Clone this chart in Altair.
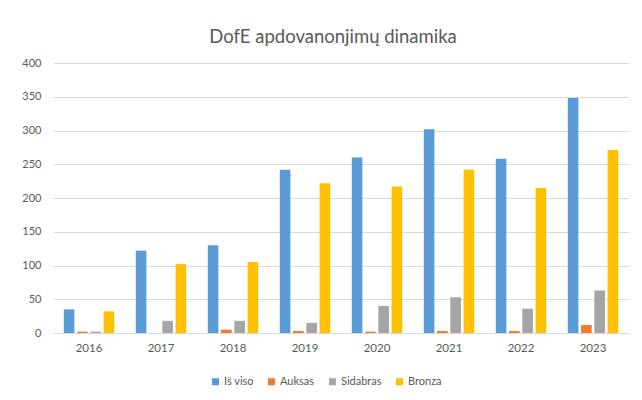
import altair as alt
import pandas as pd

years = ["2016", "2017", "2018", "2019", "2020", "2021", "2022", "2023"]
series = ["Iš viso", "Auksas", "Sidabras", "Bronza"]
colors = ["#5B9BD5", "#ED7D31", "#A5A5A5", "#FFC000"]
is_viso = [35, 122, 130, 242, 260, 302, 258, 348]
auksas = [2, 0, 5, 3, 2, 3, 3, 12]
sidabras = [2, 18, 18, 15, 40, 53, 36, 63]
bronza = [32, 102, 105, 222, 217, 242, 215, 271]

values = [is_viso, auksas, sidabras, bronza]
rows = []
for s, vals in zip(series, values):
    for y, v in zip(years, vals):
        rows.append({"Metai": y, "Serija": s, "Reikšmė": v})
df = pd.DataFrame(rows)

FONT = "Lato"
GREY = "#595959"

chart = alt.Chart(df).mark_bar().encode(
    x=alt.X("Metai:N", sort=years, title=None,
            scale=alt.Scale(paddingInner=0.3, paddingOuter=0.15),
            axis=alt.Axis(labelAngle=0, ticks=False, domain=False, labelPadding=9,
                          labelFontSize=11.5, labelColor=GREY, labelFont=FONT)),
    xOffset=alt.XOffset("Serija:N", sort=series,
                        scale=alt.Scale(domain=series, paddingInner=0.2)),
    y=alt.Y("Reikšmė:Q", title=None,
            scale=alt.Scale(domain=[0, 400], nice=False),
            axis=alt.Axis(values=[0, 50, 100, 150, 200, 250, 300, 350, 400],
                          ticks=False, domain=False, labelPadding=12,
                          labelFontSize=11, labelColor=GREY, labelFont=FONT,
                          gridColor="#D9D9D9", gridWidth=1)),
    color=alt.Color("Serija:N", sort=series,
                    scale=alt.Scale(domain=series, range=colors),
                    legend=alt.Legend(title=None, orient="none", direction="horizontal",
                                      legendX=157, legendY=313,
                                      symbolType="square", symbolSize=50,
                                      symbolStrokeWidth=0, labelFontSize=11,
                                      labelColor=GREY, labelFont=FONT,
                                      columnPadding=12, symbolOffset=0,
                                      labelOffset=3)),
).properties(
    width=576,
    height=270,
    title=alt.TitleParams("DofE apdovanonjimų dinamika", fontSize=18.5,
                          font=FONT, fontWeight="normal", color=GREY,
                          anchor="middle", dx=-8, offset=11),
    padding={"left": 45, "top": 55, "right": 5, "bottom": 59},
    autosize=alt.AutoSizeParams(type="none"),
    background="white",
).configure_view(stroke=None)

chart.save("out.html", embed_options={"renderer": "svg", "actions": False})
